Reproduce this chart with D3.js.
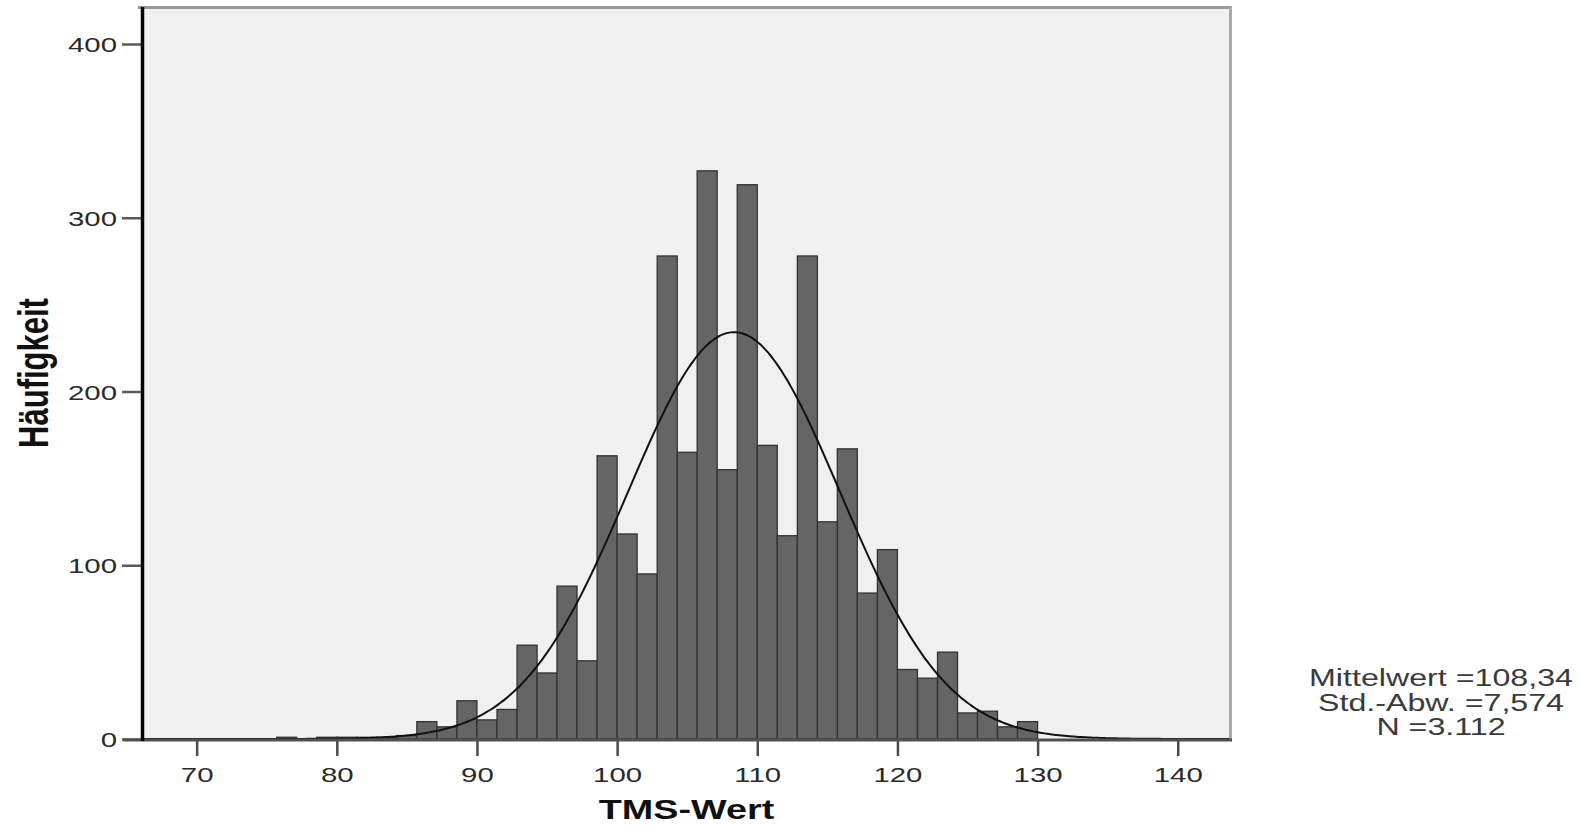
<!DOCTYPE html>
<html>
<head>
<meta charset="utf-8">
<script src="https://cdn.jsdelivr.net/npm/d3@7"></script>
<style>
  html, body { margin: 0; padding: 0; background: #ffffff; }
  svg { display: block; }
  text { font-family: "Liberation Sans", Arial, sans-serif; }
</style>
</head>
<body>
<svg id="chart" width="1581" height="827"></svg>
<script>
// ---------- data ----------
const binStarts = [75.71, 77.14, 78.57, 80.00, 81.43, 82.86, 84.29, 85.71, 87.14, 88.57,
                   90.00, 91.43, 92.86, 94.29, 95.71, 97.14, 98.57, 100.00, 101.43, 102.86,
                   104.29, 105.71, 107.14, 108.57, 110.00, 111.43, 112.86, 114.29, 115.71, 117.14,
                   118.57, 120.00, 121.43, 122.86, 124.29, 125.71, 127.14, 128.57];
const binWidth = 1.4286;
const counts = [1, 0, 1, 1, 1, 1, 2, 10, 7, 22,
                11, 17, 54, 38, 88, 45, 163, 118, 95, 278,
                165, 327, 155, 319, 169, 117, 278, 125, 167, 84,
                109, 40, 35, 50, 15, 16, 7, 10];
const xTicks = [70, 80, 90, 100, 110, 120, 130, 140];
const yTicks = [0, 100, 200, 300, 400];
const statMean = 108.34;
const statSD = 7.574;
const statN = 3112;
const statLines = ["Mittelwert =108,34", "Std.-Abw. =7,574", "N =3.112"];
const xLabel = "TMS-Wert";
const yLabel = "Häufigkeit";

// ---------- layout ----------
const svg = d3.select("#chart");
const SX = 1.4; // horizontal stretch of all text in the reference
const plot = { left: 142, right: 1231, top: 7, bottom: 739 };

const x = d3.scaleLinear().domain([66.1, 143.8]).range([plot.left, plot.right]);
const y = d3.scaleLinear().domain([0, 400]).range([739, 44]);

// background
svg.append("rect")
  .attr("x", plot.left).attr("y", plot.top)
  .attr("width", plot.right - plot.left).attr("height", plot.bottom - plot.top)
  .attr("fill", "#f0f0f0");

// bars
const bins = binStarts.map((s, i) => ({ x0: s, x1: s + binWidth, n: counts[i] }));
svg.append("g").selectAll("rect").data(bins.filter(d => d.n > 0)).join("rect")
  .attr("x", d => x(d.x0))
  .attr("y", d => y(d.n))
  .attr("width", d => x(d.x1) - x(d.x0))
  .attr("height", d => y(0) - y(d.n))
  .attr("fill", "#656565")
  .attr("stroke", "#333333")
  .attr("stroke-width", 1.3);

// fitted normal curve from the stated mean / SD / N
svg.append("clipPath").attr("id", "clip").append("rect")
  .attr("x", plot.left).attr("y", plot.top)
  .attr("width", plot.right - plot.left).attr("height", plot.bottom - plot.top);
const pdf = v => statN * binWidth / (statSD * Math.sqrt(2 * Math.PI)) *
                 Math.exp(-0.5 * Math.pow((v - statMean) / statSD, 2));
const samples = d3.range(x.domain()[0], x.domain()[1] + 0.01, 0.2);
svg.append("path")
  .datum(samples)
  .attr("clip-path", "url(#clip)")
  .attr("fill", "none")
  .attr("stroke", "#111")
  .attr("stroke-width", 2)
  .attr("d", d3.line().x(v => x(v)).y(v => y(pdf(v))).curve(d3.curveBasis));

// frame
svg.append("line").attr("x1", 138).attr("x2", 1232).attr("y1", 7.5).attr("y2", 7.5)
  .attr("stroke", "#9a9a9a").attr("stroke-width", 3);
svg.append("line").attr("x1", 1230.5).attr("x2", 1230.5).attr("y1", 6).attr("y2", 739)
  .attr("stroke", "#aaaaaa").attr("stroke-width", 3);

// x axis
const xAxis = svg.append("g").attr("transform", `translate(0,${plot.bottom})`)
  .call(d3.axisBottom(x).tickValues(xTicks).tickSize(17).tickFormat(d3.format("d")));
xAxis.select(".domain").remove();
xAxis.selectAll(".tick line").attr("stroke", "#4a4a4a").attr("stroke-width", 2.5);
xAxis.selectAll(".tick text")
  .attr("y", 0).attr("dy", 0)
  .attr("transform", `translate(0,43) scale(${SX},1)`)
  .attr("font-size", 21).attr("fill", "#2a2a2a").attr("text-anchor", "middle");

// y axis
const yAxis = svg.append("g").attr("transform", `translate(${plot.left},0)`)
  .call(d3.axisLeft(y).tickValues(yTicks).tickSize(20).tickFormat(d3.format("d")));
yAxis.select(".domain").remove();
yAxis.selectAll(".tick line").attr("stroke", "#5a5a5a").attr("stroke-width", 2.5);
yAxis.selectAll(".tick text")
  .attr("x", 0).attr("dy", "0.36em")
  .attr("transform", `translate(-25,0) scale(${SX},1)`)
  .attr("font-size", 21).attr("fill", "#2a2a2a").attr("text-anchor", "end");

// axis lines on top
svg.append("line").attr("x1", 123).attr("x2", 1232).attr("y1", 740).attr("y2", 740)
  .attr("stroke", "#505050").attr("stroke-width", 3);
svg.append("line").attr("x1", 142.5).attr("x2", 142.5).attr("y1", 7).attr("y2", 741)
  .attr("stroke", "#000").attr("stroke-width", 3.5);

// axis titles
svg.append("text")
  .attr("transform", `translate(${(plot.left + plot.right) / 2},819) scale(${SX},1)`)
  .attr("text-anchor", "middle").attr("font-size", 27).attr("font-weight", "bold")
  .attr("fill", "#111").text(xLabel);
svg.append("text")
  .attr("transform", `translate(48,373) scale(${SX},1) rotate(-90)`)
  .attr("text-anchor", "middle").attr("font-size", 31).attr("font-weight", "bold")
  .attr("fill", "#111").text(yLabel);

// statistics box text
svg.append("g").selectAll("text").data(statLines).join("text")
  .attr("transform", (d, i) => `translate(1441,${686 + i * 24.5}) scale(${SX},1)`)
  .attr("text-anchor", "middle").attr("font-size", 23)
  .attr("fill", "#3a3a3a").text(d => d);
</script>
</body>
</html>
